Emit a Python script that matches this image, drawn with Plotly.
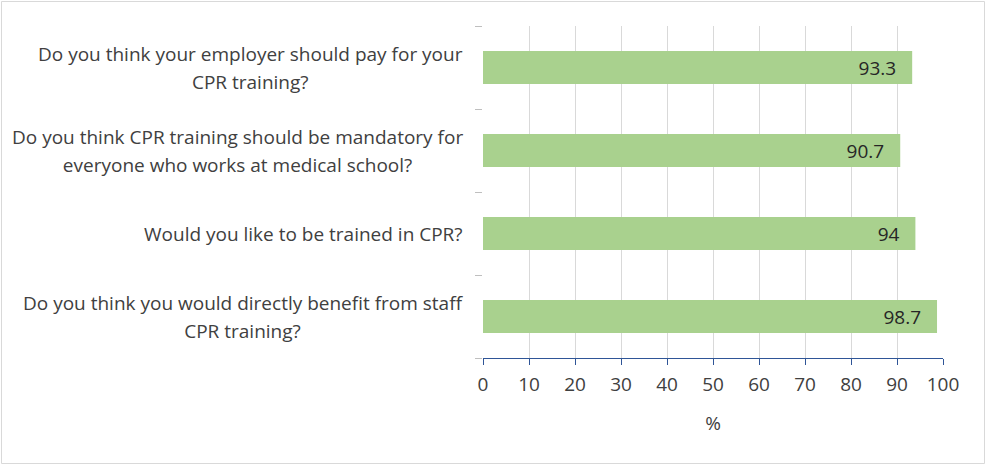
import plotly.graph_objects as go

label_lines = [
    ["Do you think you would directly benefit from staff", "CPR training?"],
    ["Would you like to be trained in CPR?"],
    ["Do you think CPR training should be mandatory for", "everyone who works at medical school?"],
    ["Do you think your employer should pay for your", "CPR training?"],
]
categories = ["<br>".join(l) for l in label_lines]
values = [98.7, 94, 90.7, 93.3]
value_labels = ["98.7", "94", "90.7", "93.3"]
x_ticks = [0, 10, 20, 30, 40, 50, 60, 70, 80, 90, 100]

FONT = "Open Sans, Liberation Sans, Arial"
FS = 19
PAD = "\u00a0\u00a0\u2009"
fig = go.Figure(go.Bar(
    x=values, y=categories, orientation="h",
    marker=dict(color="#A9D18E", line=dict(width=0)),
    width=0.4,
    text=[t + PAD for t in value_labels], textposition="inside", insidetextanchor="end",
    textfont=dict(size=FS, color="#262626", family=FONT),
    cliponaxis=False,
))

W, H = 986, 465
L, R, T, B = 483, 43, 26, 107
pw, ph = W - L - R, H - T - B

for lines, cat in zip(label_lines, categories):
    txt = "<br>".join(f'<span style="font-size:{FS}px">{ln}</span>' for ln in lines)
    fig.add_annotation(
        x=0, xref="paper", y=cat, yref="y", text=txt,
        xanchor="right", yanchor="middle", align="center",
        xshift=-18, showarrow=False,
        font=dict(family=FONT, size=21.5, color="#404040"),
    )

fig.update_layout(
    width=W, height=H,
    margin=dict(l=L, r=R, t=T, b=B, autoexpand=False),
    paper_bgcolor="white", plot_bgcolor="white",
    showlegend=False,
    font=dict(family=FONT, size=FS, color="#404040"),
    xaxis=dict(
        range=[0, 100], tickvals=x_ticks, ticktext=[str(v) for v in x_ticks],
        showgrid=True, gridcolor="#D9D9D9", gridwidth=1,
        showline=True, linecolor="#2F5597", linewidth=1,
        ticks="outside", ticklen=6, tickcolor="#2F5597",
        tickfont=dict(size=FS, color="#404040"),
        ticklabelstandoff=3,
        title=dict(text="%", font=dict(size=FS, color="#404040"), standoff=20),
        zeroline=False, automargin=False,
    ),
    yaxis=dict(
        type="category", categoryorder="array", categoryarray=categories,
        showline=False, tickson="boundaries",
        ticks="outside", ticklen=7, tickcolor="#BFBFBF",
        showticklabels=False,
        showgrid=False, automargin=False,
    ),
    shapes=[dict(type="rect", xref="paper", yref="paper",
                 x0=(1.5 - L) / pw, x1=1 + (984.5 - (L + pw)) / pw,
                 y0=-(463.5 - (T + ph)) / ph, y1=1 + (T - 1.5) / ph,
                 line=dict(color="#D9D9D9", width=1), fillcolor="rgba(0,0,0,0)")],
)

fig.write_html("out.html", config={"displayModeBar": False},
               post_script="document.body.style.margin='0';")
